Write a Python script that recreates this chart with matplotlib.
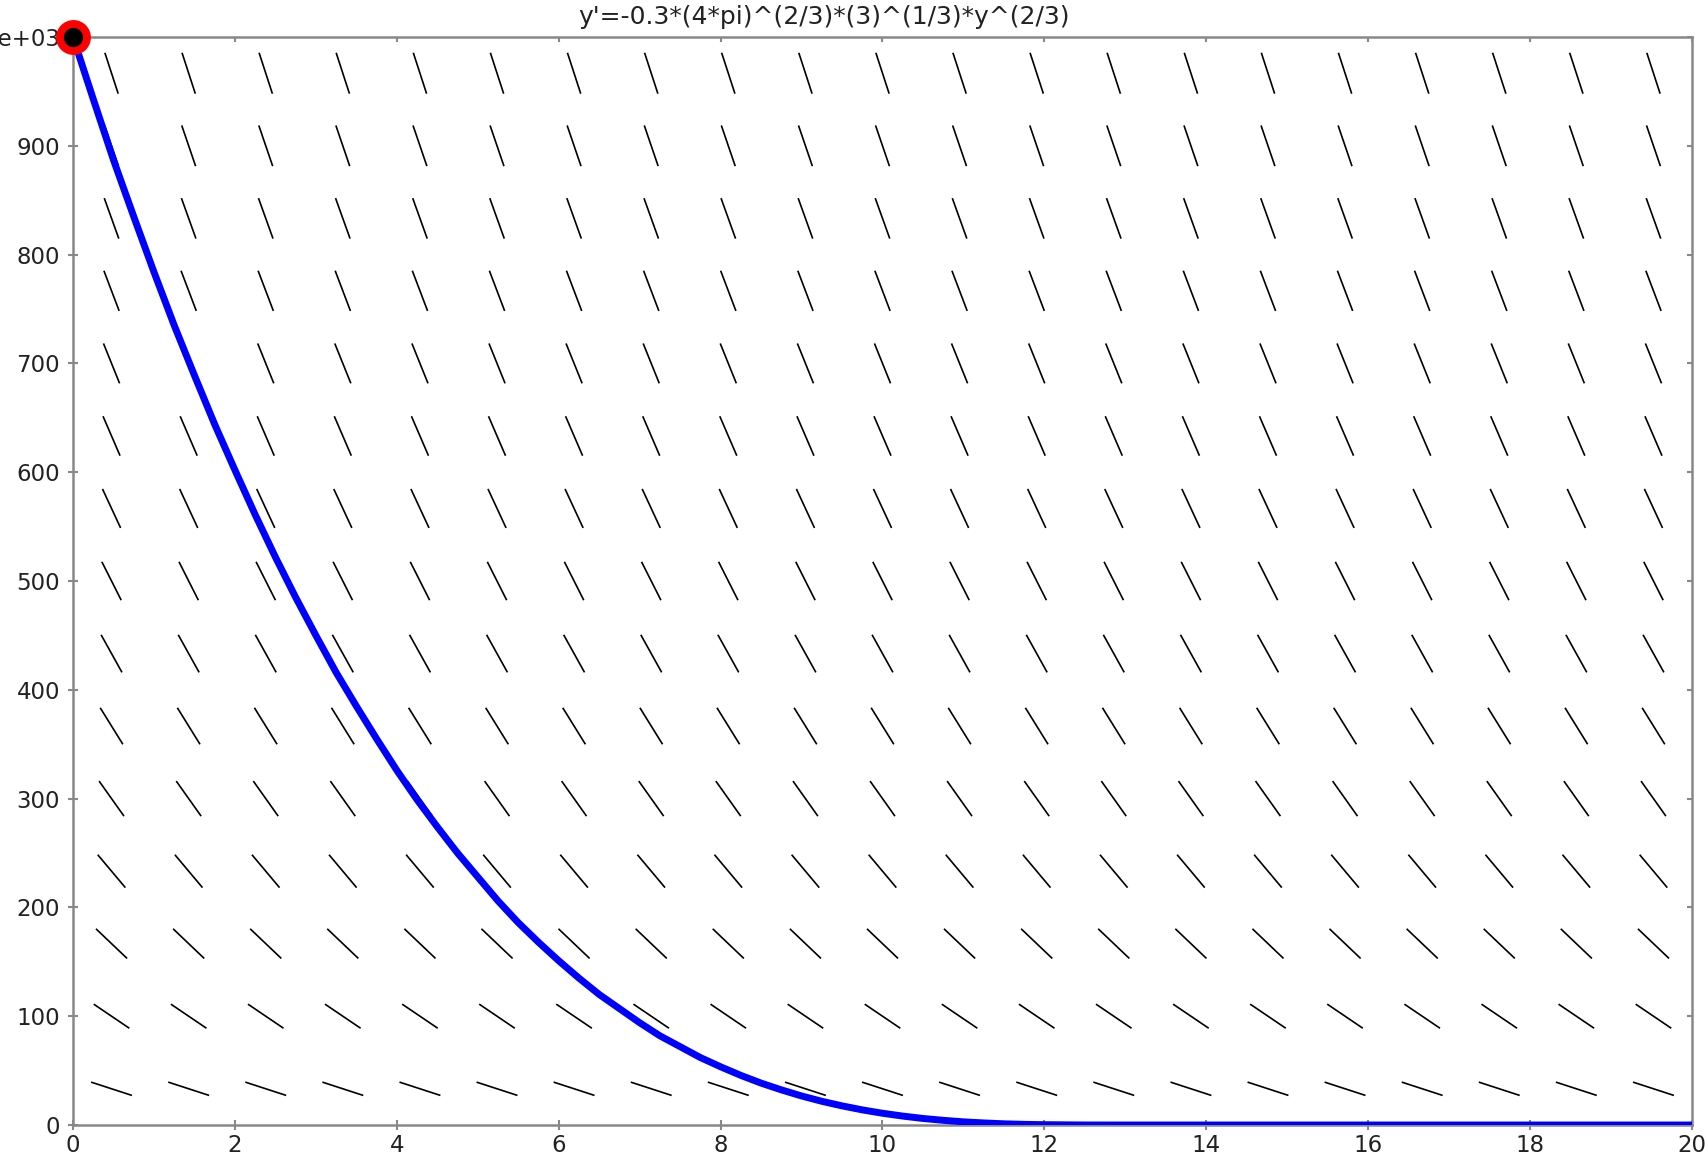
import numpy as np
import matplotlib
matplotlib.use("Agg")
import matplotlib.pyplot as plt
from matplotlib.collections import LineCollection

# ---- data ----
title_text = "y'=-0.3*(4*pi)^(2/3)*(3)^(1/3)*y^(2/3)"
# ODE coefficient from the title: y' = -C * y^(2/3)
coef = 0.3 * (4 * np.pi) ** (2 / 3) * 3 ** (1 / 3)

# solution curve points
curve_x = [0, 0.25, 0.5, 0.75, 1, 1.25, 1.5, 1.75, 2, 2.25, 2.5, 2.75, 3,
           3.25, 3.5, 3.75, 4, 4.25, 4.5, 4.75, 5, 5.25, 5.5, 5.75, 6, 6.25,
           6.5, 6.75, 7, 7.25, 7.5, 7.75, 8, 8.25, 8.5, 8.75, 9, 9.25, 9.5,
           9.75, 10, 10.25, 10.5, 10.75, 11, 11.25, 11.5, 11.75, 12, 12.5,
           13, 20]
curve_y = [1000, 943, 887, 835, 784, 735, 689, 644, 602, 561, 522, 485, 450,
           416, 385, 355, 326, 299, 274, 250, 228, 206, 186, 168, 151, 135,
           120, 107, 94, 82, 72, 62, 53.5, 45.6, 38.5, 32.3, 26.7, 21.8,
           17.6, 13.9, 10.8, 8.2, 6.0, 4.3, 2.9, 1.9, 1.1, 0.6, 0.3, 0.02,
           0, 0]

start_point = (0, 1000)

# slope-field grid (21 columns x 15 rows)
field_x = [0.476, 1.429, 2.381, 3.333, 4.286, 5.238, 6.190, 7.143, 8.095,
           9.048, 10.0, 10.952, 11.905, 12.857, 13.810, 14.762, 15.714,
           16.667, 17.619, 18.571, 19.524]
field_y = [33.3, 100, 166.7, 233.3, 300, 366.7, 433.3, 500, 566.7, 633.3,
           700, 766.7, 833.3, 900, 966.7]

xticks = [0, 2, 4, 6, 8, 10, 12, 14, 16, 18, 20]
yticks = [0, 100, 200, 300, 400, 500, 600, 700, 800, 900, 1000]
ytick_labels = ["0", "100", "200", "300", "400", "500", "600", "700", "800",
                "900", "1e+03"]

# ---- figure ----
W, H, DPI = 1706, 1168, 100
fig = plt.figure(figsize=(W / DPI, H / DPI), dpi=DPI)
L, R, T, B = 73, 1692, 37, 1125
ax = fig.add_axes([L / W, 1 - B / H, (R - L) / W, (B - T) / H])
ax.set_xlim(0, 20)
ax.set_ylim(0, 1000)

# slope field segments with constant pixel length
seg_len_px = 43.0
sx = (R - L) / 20.0      # px per x unit
sy = (B - T) / 1000.0    # px per y unit
segs = []
for yv in field_y:
    m = -coef * yv ** (2 / 3)
    mpx = m * sy / sx
    dxp = 1.0 / np.sqrt(1 + mpx ** 2) * seg_len_px / 2
    dyp = mpx * dxp
    dx = dxp / sx
    dy = dyp / sy
    for xv in field_x:
        segs.append([(xv - dx, yv - dy), (xv + dx, yv + dy)])
lc = LineCollection(segs, colors="black", linewidths=1.2, zorder=2)
ax.add_collection(lc)

ax.plot(curve_x, curve_y, color="#0000ff", lw=5.0, zorder=3,
        solid_capstyle="butt", solid_joinstyle="round")
ax.plot([start_point[0]], [start_point[1]], marker="o", markersize=19.5,
        markerfacecolor="black", markeredgecolor="#ff0000",
        markeredgewidth=5.6, clip_on=False, zorder=5)

# styling
for s in ax.spines.values():
    s.set_color("#888888")
    s.set_linewidth(1.8)
ax.set_xticks(xticks)
ax.set_xticklabels([str(v) for v in xticks])
ax.set_yticks(yticks)
ax.set_yticklabels(ytick_labels)
ax.tick_params(axis="both", which="major", direction="inout", length=6.5,
               width=1.5, color="#888888", labelsize=16.5,
               labelcolor="#222222", top=False, right=False)
ax.tick_params(axis="x", pad=3)
ax.tick_params(axis="y", pad=6)

# inward-only short ticks on top and right
sec_x = ax.secondary_xaxis("top")
sec_x.set_xticks(xticks)
sec_x.tick_params(direction="in", length=3.5, width=1.5, color="#888888",
                  labelsize=0, labeltop=False)
sec_x.spines["top"].set_visible(False)
sec_y = ax.secondary_yaxis("right")
sec_y.set_yticks(yticks)
sec_y.tick_params(direction="in", length=3.5, width=1.5, color="#888888",
                  labelsize=0, labelright=False)
sec_y.spines["right"].set_visible(False)

fig.text(824 / W, 1 - 17 / H, title_text, ha="center", va="center",
         fontsize=18, color="#222222")

fig.savefig("out.png", dpi=DPI)
